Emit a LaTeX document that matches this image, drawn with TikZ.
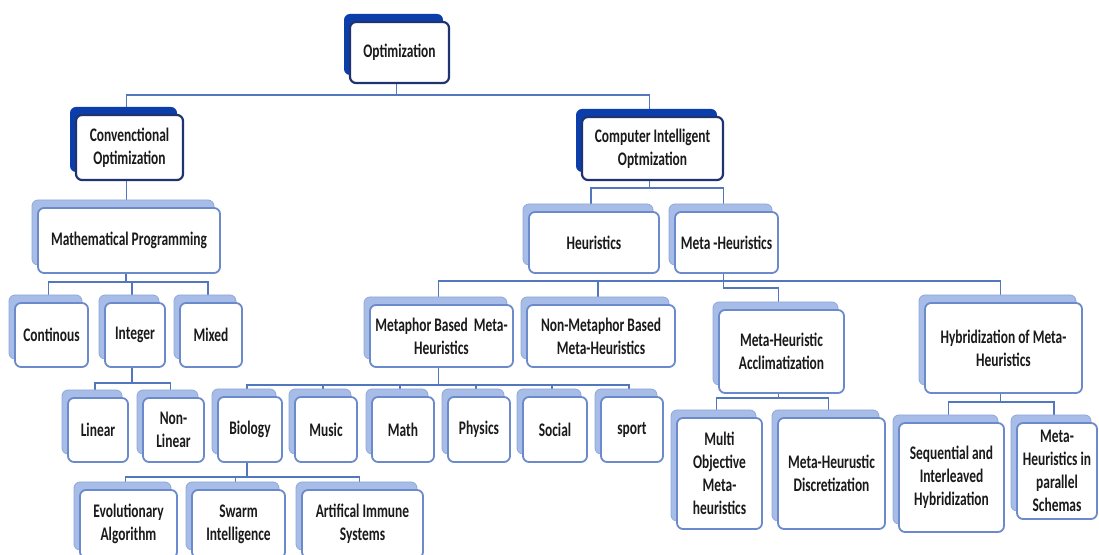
\documentclass[tikz,border=0pt]{standalone}
\usepackage{fontspec}
\setmainfont{Carlito}[FakeStretch=0.7]
\usetikzlibrary{backgrounds}

\definecolor{darkback}{HTML}{0B3EAA}
\definecolor{darkedge}{HTML}{1E3370}
\definecolor{lightback}{HTML}{A7BCE6}
\definecolor{lightline}{HTML}{8FA8DA}
\definecolor{lightedge}{HTML}{6A8ACB}
\definecolor{linkblue}{HTML}{5277BE}
\definecolor{ink}{HTML}{1A1A1A}

\tikzset{
  front/.style={draw, fill=white, rounded corners=3pt, inner sep=1pt, align=center,
    font=\bfseries\fontsize{9.6}{11.6}\selectfont, text=ink},
  frontdark/.style={front, draw=darkedge, line width=1.1pt},
  frontlight/.style={front, draw=lightedge, line width=0.9pt},
  backdark/.style={fill=darkback, rounded corners=3pt},
  backlight/.style={fill=lightback, draw=lightline, line width=0.4pt, rounded corners=3pt},
  conn/.style={draw=linkblue, line width=0.75pt},
}

% stacked box: name, kind (dark/light), left, top, width, height, text
\newcommand\tbox[7]{%
  \path[back#2] ({#3-6},{#4-8}) rectangle ({#3+#5-6},{#4+#6-8});
  \node[front#2, minimum width={#5*0.5pt}, minimum height={#6*0.5pt}]
    (#1) at ({#3+#5/2},{#4+#6/2}) {#7};
}

% parent-to-children bus: parent, bus level, children
\newcommand\branch[3]{%
  \path ([xshift=-1.5pt]#1.south) coordinate (#1-out);
  \draw[conn] (#1-out) -- (#1-out |- 0,#2);
  \foreach \c in {#3}{
    \path ([xshift=-1.5pt]\c.north) coordinate (\c-in);
    \draw[conn] (#1-out |- 0,#2) -| (\c-in);
  }
}

\begin{document}
\begin{tikzpicture}[x=0.5pt, y=-0.5pt]
\useasboundingbox (0,0) rectangle (1099,555);

% top levels
\tbox{opt}{dark}{350}{22}{99}{61}{Optimization}
\tbox{conv}{dark}{76}{115}{107}{65}{Convenctional\\Optimization}
\tbox{cio}{dark}{582}{117}{141}{63}{Computer Intelligent\\Optmization}

% second level
\tbox{mp}{light}{38}{208}{182}{65}{Mathematical Programming}
\tbox{heur}{light}{529}{212}{130}{61}{Heuristics}
\tbox{meta}{light}{675}{212}{103}{61}{Meta -Heuristics}

% third level
\tbox{cont}{light}{15}{303}{73}{64}{Continous}
\tbox{int}{light}{105}{303}{60}{64}{Integer}
\tbox{mix}{light}{180}{303}{62}{64}{Mixed}
\tbox{mbm}{light}{370}{305}{143}{62}{Metaphor Based~ Meta-\\Heuristics}
\tbox{nmbm}{light}{527}{305}{148}{62}{Non-Metaphor Based\\Meta-Heuristics}
\tbox{accl}{light}{719}{310}{125}{83}{Meta-Heuristic\\Acclimatization}
\tbox{hyb}{light}{925}{303}{157}{90}{Hybridization of Meta-\\Heuristics}

% fourth level
\tbox{lin}{light}{68}{398}{60}{64}{Linear}
\tbox{nlin}{light}{143}{398}{61}{64}{Non-\\Linear}
\tbox{bio}{light}{218}{397}{64}{65}{Biology}
\tbox{mus}{light}{295}{397}{62}{65}{Music}
\tbox{math}{light}{372}{397}{62}{65}{Math}
\tbox{phys}{light}{448}{397}{62}{65}{Physics}
\tbox{soc}{light}{523}{397}{64}{65}{Social}
\tbox{sport}{light}{601}{397}{62}{65}{sport}
\tbox{mo}{light}{677}{418}{85}{111}{Multi\\Objective\\Meta-\\heuristics}
\tbox{disc}{light}{778}{418}{107}{111}{Meta-Heurustic\\Discretization}
\tbox{seq}{light}{899}{423}{105}{109}{Sequential and\\Interleaved\\Hybridization}
\tbox{par}{light}{1017}{423}{80}{96}{Meta-\\Heuristics in\\parallel\\Schemas}

% fifth level
\tbox{evo}{light}{80}{490}{97}{68}{Evolutionary\\Algorithm}
\tbox{swarm}{light}{192}{490}{93}{68}{Swarm\\Intelligence}
\tbox{ais}{light}{302}{490}{121}{68}{Artifical Immune\\Systems}

\begin{pgfonlayer}{background}
  \branch{opt}{95}{conv,cio}
  \path ([xshift=-1.5pt]conv.south) coordinate (conv-out);
  \draw[conn] (conv-out) -- (conv-out |- mp.north);
  \branch{cio}{188}{heur,meta}
  \branch{mp}{282}{cont,int,mix}
  \branch{int}{383}{lin,nlin}
  \branch{mbm}{385}{bio,mus,math,phys,soc,sport}
  \branch{bio}{477}{evo,swarm,ais}
  \branch{accl}{398}{mo,disc}
  \branch{hyb}{402}{seq,par}
  % Meta-Heuristics bus and its link to Acclimatization
  \path ([xshift=-1.5pt]mbm.north) coordinate (m1)
        ([xshift=-1.5pt]nmbm.north) coordinate (m2)
        ([xshift=-1.5pt]hyb.north) coordinate (m3)
        ([xshift=-1.5pt]meta.south) coordinate (m4)
        ([xshift=-1.5pt]accl.north) coordinate (m5);
  \draw[conn] (m1) |- (m3 |- 0,281) -- (m3);
  \draw[conn] (m2) -- (m2 |- 0,281);
  \draw[conn] (m4) -- (m4 |- 0,288) -| (m5);
\end{pgfonlayer}
\end{tikzpicture}
\end{document}
